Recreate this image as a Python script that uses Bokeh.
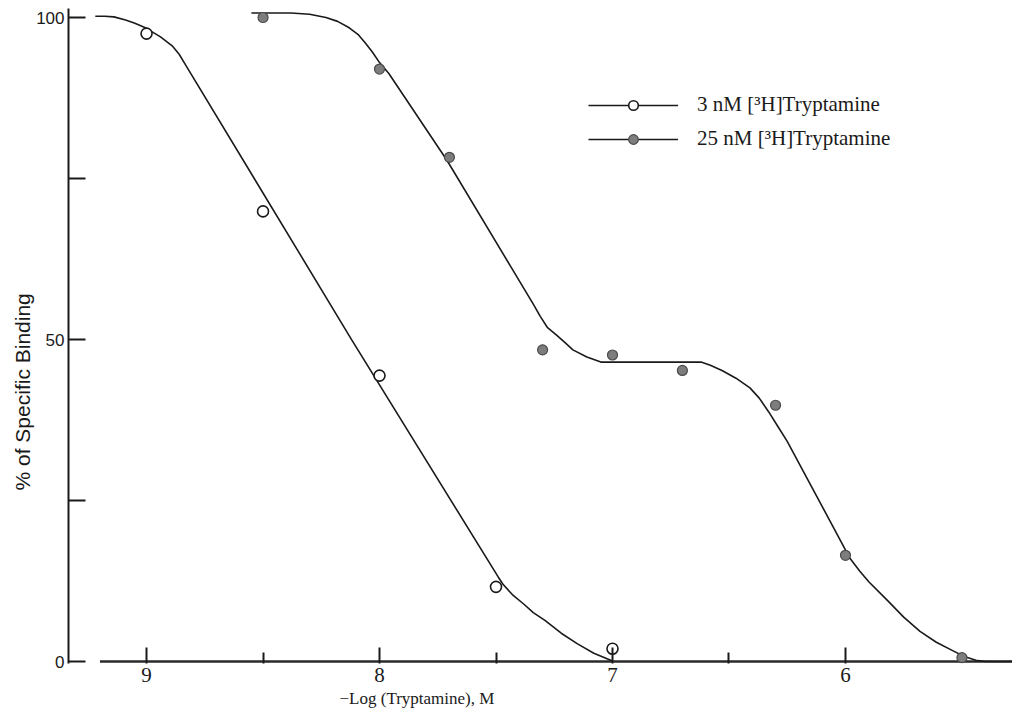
from bokeh.plotting import figure
from bokeh.models import Range1d, FixedTicker, Legend, LegendItem, Title
from bokeh.embed import file_html
from bokeh.resources import INLINE

# ---- data ----
# measured points, 3 nM [3H]Tryptamine (open circles)
x3 = [9.0, 8.5, 8.0, 7.5, 7.0]
y3 = [97.5, 69.9, 44.4, 11.6, 2.0]
# measured points, 25 nM [3H]Tryptamine (filled circles)
x25 = [8.5, 8.0, 7.7, 7.3, 7.0, 6.7, 6.3, 6.0, 5.5]
y25 = [100.0, 92.0, 78.3, 48.4, 47.6, 45.2, 39.8, 16.5, 0.6]

# drawn (hand-fitted) curves
c3_x = [9.22, 9.18, 9.14, 9.09, 9.05, 9.01, 8.94, 8.89, 8.86, 8.83, 8.12, 7.49, 7.47, 7.43,
        7.38, 7.34, 7.29, 7.22, 7.15, 7.08, 7.00]
c3_y = [100.2, 100.2, 100.1, 99.6, 99.1, 98.5, 97.0, 95.6, 94.3, 92.5, 50.0, 13.1, 12.0, 10.4,
        8.9, 7.6, 6.4, 4.4, 2.75, 1.3, 0.1]
c25_x = [8.55, 8.38, 8.30, 8.23, 8.18, 8.13, 8.09, 8.06, 8.03, 8.00, 7.96, 7.71, 7.34,
         7.31, 7.28, 7.24, 7.20, 7.17, 7.11, 7.05, 6.62, 6.58, 6.53, 6.47, 6.41, 6.37,
         6.33, 6.29, 6.25, 5.98, 5.94, 5.90, 5.82, 5.75, 5.68, 5.61, 5.54, 5.49, 5.44,
         5.40, 5.28]
c25_y = [100.7, 100.7, 100.5, 100.0, 99.4, 98.4, 97.3, 96.0, 94.6, 93.0, 91.3, 77.8, 55.5,
         53.6, 51.9, 50.7, 49.4, 48.4, 47.3, 46.5, 46.5, 46.0, 45.2, 44.0, 42.5, 40.9,
         38.8, 36.5, 34.2, 16.0, 14.1, 12.4, 9.5, 6.9, 4.7, 3.0, 1.7, 0.8, 0.2,
         0.0, 0.0]

x_ticks = [9, 8, 7, 6]
x_minor = [8.5, 7.5, 6.5]
y_ticks = [0, 25, 50, 75, 100]
y_tick_labels = {0: "0", 25: "", 50: "50", 75: "", 100: "100"}

label3 = "3 nM [³H]Tryptamine"
label25 = "25 nM [³H]Tryptamine"
x_title = "−Log (Tryptamine), M"
y_title = "% of Specific Binding"

# ---- figure ----
p = figure(width=1012, height=718, output_backend="svg", toolbar_location=None,
           x_range=Range1d(9.335, 5.283), y_range=Range1d(-0.3, 101.4),
           min_border_left=68, min_border_right=0, min_border_top=8,
           min_border_bottom=55)
p.outline_line_color = None
p.xgrid.visible = False
p.ygrid.visible = False
p.background_fill_color = "white"

INK = "#1a1a1a"

# x axis
xa = p.xaxis[0]
xa.ticker = FixedTicker(ticks=x_ticks, minor_ticks=x_minor)
xa.axis_line_color = None
xa.major_tick_in = 16
xa.major_tick_out = 0
xa.minor_tick_in = 11
xa.minor_tick_out = 0
xa.major_tick_line_width = 2
xa.minor_tick_line_width = 2
xa.major_tick_line_color = INK
xa.minor_tick_line_color = INK
xa.major_label_text_font = "Liberation Sans Narrow"
xa.major_label_text_font_size = "21px"
xa.major_label_text_color = INK
xa.major_label_standoff = 4

# y axis
ya = p.yaxis[0]
ya.ticker = FixedTicker(ticks=y_ticks)
ya.major_label_overrides = y_tick_labels
ya.minor_tick_line_color = None
ya.axis_line_width = 2
ya.axis_line_color = INK
ya.major_tick_in = 17
ya.major_tick_out = 0
ya.major_tick_line_width = 2
ya.major_tick_line_color = INK
ya.major_label_text_font = "Liberation Sans"
ya.major_label_text_font_size = "17px"
ya.major_label_text_color = INK
ya.major_label_standoff = 4

# axis titles (placed as side-panel titles so they are not clipped)
p.add_layout(Title(text=x_title, align="left", offset=271, standoff=4,
                   text_font="Liberation Serif", text_font_size="17px",
                   text_font_style="normal", text_color=INK), "below")
p.add_layout(Title(text=y_title, align="left", offset=173, standoff=0,
                   text_font="Liberation Sans", text_font_size="21px",
                   text_font_style="normal", text_color=INK), "left")

# baseline (detached x-axis line as in the original)
p.segment(x0=[9.2], y0=[0], x1=[5.0], y1=[0], line_width=2.5, line_color="#2a2a2a")

# curves
l3 = p.line(c3_x, c3_y, line_width=1.6, line_color=INK, line_join="round")
l25 = p.line(c25_x, c25_y, line_width=1.6, line_color=INK, line_join="round")

# points
s3 = p.scatter(x3, y3, marker="circle", size=11, fill_color="white",
               line_color=INK, line_width=1.6)
s25 = p.scatter(x25, y25, marker="circle", size=10, fill_color="#7d7d7d",
                line_color="#4a4a4a", line_width=1.2)

legend = Legend(items=[LegendItem(label=label3, renderers=[l3, s3]),
                       LegendItem(label=label25, renderers=[l25, s25])],
                location=(520, 512), glyph_width=90, glyph_height=24,
                spacing=9, label_standoff=19, padding=0, margin=0,
                border_line_color=None, background_fill_alpha=0,
                label_text_font="Liberation Serif", label_text_font_size="21px",
                label_text_color=INK)
p.add_layout(legend)

open("out.html", "w").write(file_html(p, INLINE))
